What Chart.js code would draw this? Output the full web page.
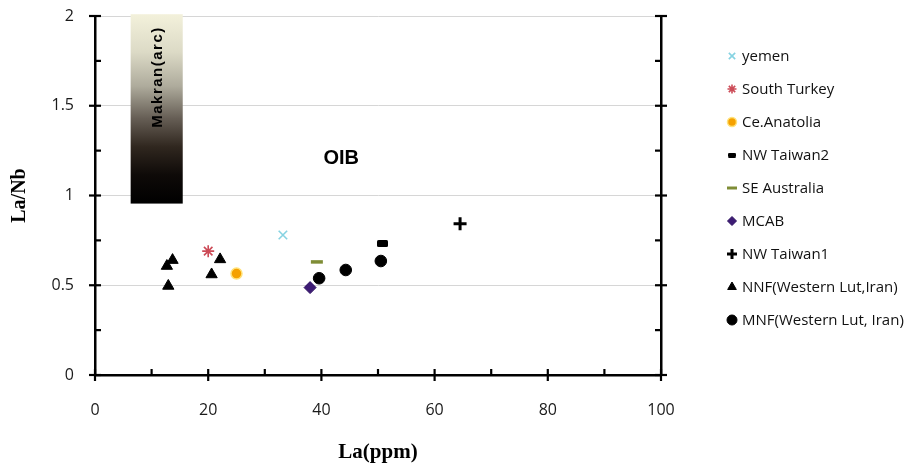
<!DOCTYPE html>
<html><head><meta charset="utf-8">
<script src="https://cdn.jsdelivr.net/npm/chart.js@4.4.1/dist/chart.umd.min.js"></script>
<style>html,body{margin:0;padding:0;background:#fff}canvas{display:block}</style>
</head><body>
<canvas id="c" width="919" height="469"></canvas>
<script>
// ---- data ----
const seriesNames = ['yemen','South Turkey','Ce.Anatolia','NW Taiwan2','SE Australia','MCAB','NW Taiwan1','NNF(Western Lut,Iran)','MNF(Western Lut, Iran)'];
const yemenLa = [33.2],        yemenRatio = [0.78];
const turkeyLa = [20.0],       turkeyRatio = [0.69];
const anatoliaLa = [25.0],     anatoliaRatio = [0.565];
const taiwan2La = [50.8],      taiwan2Ratio = [0.733];
const australiaLa = [39.2],    australiaRatio = [0.63];
const mcabLa = [38.0],         mcabRatio = [0.487];
const taiwan1La = [64.5],      taiwan1Ratio = [0.843];
const nnfLa = [12.95, 12.7, 13.7, 20.6, 22.1];
const nnfRatio = [0.496, 0.607, 0.64, 0.56, 0.644];
const mnfLa = [39.6, 44.3, 50.5];
const mnfRatio = [0.539, 0.585, 0.635];
const xTickValues = [0, 20, 40, 60, 80, 100];
const yTickValues = [0, 0.5, 1, 1.5, 2];
const makranField = {laMin: 6.3, laMax: 15.5, ratioMin: 0.955, ratioMax: 2.01, label: 'Makran(arc)'};
const oibLabel = {la: 43.5, ratio: 1.205, text: 'OIB'};

const pts = (xs, ys) => xs.map((v, i) => ({x: v, y: ys[i]}));

function dashCanvas(w, h) {
  const c = document.createElement('canvas'); c.width = w; c.height = h;
  const g = c.getContext('2d'); g.fillStyle = '#000';
  g.beginPath(); g.roundRect(0, 0, w, h, 1.5); g.fill();
  return c;
}
const dashBig = dashCanvas(11, 7), dashSmall = dashCanvas(8, 5);

const datasets = [
  {label: seriesNames[0], data: pts(yemenLa, yemenRatio), pointStyle: 'crossRot', radius: 6, borderColor: '#86d3e2', backgroundColor: '#86d3e2', borderWidth: 1.6, lg: {r: 4.5}},
  {label: seriesNames[1], data: pts(turkeyLa, turkeyRatio), pointStyle: 'star', radius: 6, borderColor: '#cc4b57', backgroundColor: '#cc4b57', borderWidth: 1.6, lg: {r: 4.5}},
  {label: seriesNames[2], data: pts(anatoliaLa, anatoliaRatio), pointStyle: 'circle', radius: 5.5, borderColor: '#ffe27a', backgroundColor: '#f5a100', borderWidth: 1.5, lg: {r: 4.5}},
  {label: seriesNames[3], data: pts(taiwan2La, taiwan2Ratio), pointStyle: dashBig, radius: 6, borderColor: '#000', backgroundColor: '#000', borderWidth: 0, lg: {style: dashSmall, r: 4}},
  {label: seriesNames[4], data: pts(australiaLa, australiaRatio), pointStyle: 'line', radius: 6, borderColor: '#7f8d36', backgroundColor: '#7f8d36', borderWidth: 3.5, lg: {r: 5}},
  {label: seriesNames[5], data: pts(mcabLa, mcabRatio), pointStyle: 'rectRot', radius: 6, borderColor: '#2c1060', backgroundColor: '#3d1b74', borderWidth: 1, lg: {r: 4.5}},
  {label: seriesNames[6], data: pts(taiwan1La, taiwan1Ratio), pointStyle: 'cross', radius: 6.5, borderColor: '#000', backgroundColor: '#000', borderWidth: 3, lg: {r: 5}},
  {label: seriesNames[7], data: pts(nnfLa, nnfRatio), pointStyle: 'triangle', radius: 6.5, borderColor: '#000', backgroundColor: '#000', borderWidth: 1, lg: {r: 5}},
  {label: seriesNames[8], data: pts(mnfLa, mnfRatio), pointStyle: 'circle', radius: 5.8, borderColor: '#000', backgroundColor: '#000', borderWidth: 1, lg: {r: 5}}
];
datasets.forEach(d => { d.pointRadius = d.radius; d.pointHoverRadius = d.radius; d.showLine = false; });

const decorPlugin = {
  id: 'decor',
  beforeDatasetsDraw(chart) {
    const {ctx, scales: {x, y}} = chart;
    const l = x.getPixelForValue(makranField.laMin), r = x.getPixelForValue(makranField.laMax);
    const t = y.getPixelForValue(makranField.ratioMax), b = y.getPixelForValue(makranField.ratioMin);
    ctx.save();
    const g = ctx.createLinearGradient(0, t, 0, b);
    g.addColorStop(0, '#f3f1db');
    g.addColorStop(0.2, '#dcdac6');
    g.addColorStop(0.38, '#aeab9c');
    g.addColorStop(0.55, '#665e55');
    g.addColorStop(0.7, '#30271f');
    g.addColorStop(0.85, '#0e0a08');
    g.addColorStop(1, '#000');
    ctx.fillStyle = g;
    ctx.fillRect(l, t, r - l, b - t);
    ctx.translate((l + r) / 2 + 1, y.getPixelForValue(1.66));
    ctx.rotate(-Math.PI / 2);
    ctx.fillStyle = '#000';
    ctx.font = 'bold 15px "Liberation Sans", Arial, sans-serif';
    ctx.letterSpacing = '1.5px';
    ctx.textAlign = 'center'; ctx.textBaseline = 'middle';
    ctx.fillText(makranField.label, 0, 0);
    ctx.restore();
    ctx.save();
    ctx.fillStyle = '#000';
    ctx.font = 'bold 20px "Liberation Sans", Arial, sans-serif';
    ctx.textAlign = 'center'; ctx.textBaseline = 'middle';
    ctx.fillText(oibLabel.text, x.getPixelForValue(oibLabel.la), y.getPixelForValue(oibLabel.ratio));
    ctx.restore();
  },
  afterDraw(chart) {
    const {ctx, scales: {x, y}, chartArea: a} = chart;
    ctx.save();
    ctx.strokeStyle = '#000'; ctx.lineWidth = 2.2;
    const seg = (x1, y1, x2, y2) => { ctx.beginPath(); ctx.moveTo(x1, y1); ctx.lineTo(x2, y2); ctx.stroke(); };
    for (let i = 0; i <= 8; i++) {
      const v = i * 0.25, py = y.getPixelForValue(v), major = i % 2 === 0;
      seg(a.left - (major ? 6 : 0), py, a.left + 6, py);
      seg(a.right - 6, py, a.right + (major ? 6 : 0), py);
    }
    for (let i = 0; i <= 10; i++) {
      const px = x.getPixelForValue(i * 10), major = i % 2 === 0;
      seg(px, a.bottom - 6, px, a.bottom + (major ? 6 : 0));
    }
    ctx.restore();
    // legend
    ctx.save();
    ctx.font = '15px "Open Sans", sans-serif';
    ctx.textBaseline = 'middle';
    ctx.fillStyle = '#111';
    chart.data.datasets.forEach((d, i) => {
      const cy = 56 + i * 33.0, cx = 732;
      ctx.save();
      ctx.fillStyle = d.backgroundColor; ctx.strokeStyle = d.borderColor;
      ctx.lineWidth = Math.min(d.borderWidth, 3);
      Chart.helpers.drawPoint(ctx, {pointStyle: d.lg.style || d.pointStyle, radius: d.lg.r, rotation: 0, borderWidth: d.borderWidth}, cx, cy);
      ctx.restore();
      ctx.fillText(d.label, 742, cy + 1);
    });
    ctx.restore();
  }
};

const noPad = s => { s.paddingTop = 0; s.paddingBottom = 0; };

new Chart(document.getElementById('c'), {
  type: 'scatter',
  data: {datasets},
  options: {
    responsive: false, animation: false,
    layout: {padding: {top: 16, left: 0, right: 0, bottom: 0}},
    plugins: {legend: {display: false}, tooltip: {enabled: false}},
    scales: {
      x: {
        type: 'linear', min: 0, max: 100,
        afterBuildTicks: s => { s.ticks = xTickValues.map(v => ({value: v})); },
        afterFit: s => { s.height = 94; s.paddingLeft = 0; s.paddingRight = 0; },
        grid: {display: false, drawTicks: false},
        border: {display: true, color: '#000', width: 2.5},
        ticks: {padding: 26, color: '#1a1a1a', font: {family: '"Open Sans", sans-serif', size: 16}},
        title: {display: true, text: 'La(ppm)', color: '#000', padding: {top: 0, bottom: 4}, font: {family: '"Liberation Serif", "Times New Roman", serif', size: 21, weight: 'bold'}}
      },
      y: {
        type: 'linear', min: 0, max: 2,
        afterBuildTicks: s => { s.ticks = yTickValues.map(v => ({value: v})); },
        afterFit: s => { s.width = 95; noPad(s); },
        grid: {drawTicks: false, color: c => c.tick && c.tick.value === 0 ? 'rgba(0,0,0,0)' : '#d6d6d6', lineWidth: 1},
        border: {display: true, color: '#000', width: 2.5},
        ticks: {padding: 21, color: '#1a1a1a', font: {family: '"Open Sans", sans-serif', size: 16}, callback: v => String(v)},
        title: {display: true, text: 'La/Nb', color: '#000', padding: {top: 8, bottom: 0}, font: {family: '"Liberation Serif", "Times New Roman", serif', size: 20, weight: 'bold'}}
      },
      y2: {
        type: 'linear', position: 'right', min: 0, max: 2,
        afterFit: s => { s.width = 258; noPad(s); },
        grid: {display: false, drawTicks: false},
        border: {display: true, color: '#000', width: 2.5},
        ticks: {display: false}
      }
    }
  },
  plugins: [decorPlugin]
});
</script>
</body></html>
